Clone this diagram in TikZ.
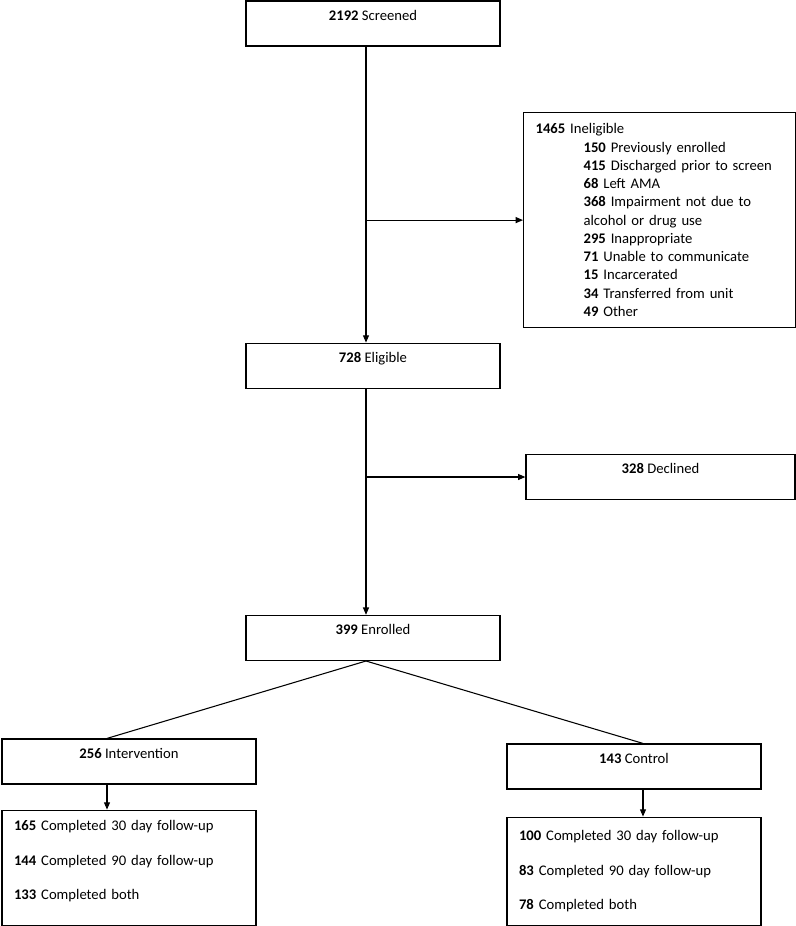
\documentclass[tikz,border=0pt]{standalone}
\usepackage{fontspec}
\setmainfont{Carlito}
\usepackage{tikz}
\usetikzlibrary{arrows.meta, positioning, calc}

\begin{document}
\begin{tikzpicture}[x=0.75pt, y=-0.75pt, >={Triangle[length=5.5pt, width=4.5pt]}, font=\fontsize{11}{13.7}\selectfont]
    \tikzstyle{stage} = [rectangle, draw=black, line width=0.9pt, minimum width=190.5pt, minimum height=33.75pt, inner sep=4pt, text height=10.25pt, text depth=15.5pt, text centered]
    \tikzstyle{listbox} = [rectangle, draw=black, line width=0.9pt, align=left, inner xsep=9pt, inner ysep=0pt]
    \tikzstyle{fubox} = [listbox, text width=172.5pt, font=\fontsize{11}{25.9}\selectfont]
    \tikzstyle{flow} = [draw, line width=0.8pt]

    \useasboundingbox (0,0) rectangle (796,926);
    \coordinate (spine) at (366,0);

    \node [stage] (screen) at (373,23.5) {\textbf{2192} Screened};
    \node [stage, below=222pt of screen] (elig) {\textbf{728} Eligible};
    \node [stage, below=169.5pt of elig] (enrol) {\textbf{399} Enrolled};
    \node [listbox, anchor=north west, text width=186pt, minimum height=161.25pt] (inelig) at (523,112) {%
        \textbf{1465} Ineligible\\
        \hspace*{36pt}\textbf{150} Previously enrolled\\
        \hspace*{36pt}\textbf{415} Discharged prior to screen\\
        \hspace*{36pt}\textbf{68} Left AMA\\
        \hspace*{36pt}\textbf{368} Impairment not due to\\
        \hspace*{36pt}alcohol or drug use\\
        \hspace*{36pt}\textbf{295} Inappropriate\\
        \hspace*{36pt}\textbf{71} Unable to communicate\\
        \hspace*{36pt}\textbf{15} Incarcerated\\
        \hspace*{36pt}\textbf{34} Transferred from unit\\
        \hspace*{36pt}\textbf{49} Other};
    \node [stage, minimum width=201.75pt] (decl) at (660.5,477) {\textbf{328} Declined};
    \node [stage] (inter) at (129,761.5) {\textbf{256} Intervention};
    \node [stage] (ctrl) at (634,766.5) {\textbf{143} Control};
    \node [fubox, minimum height=86.25pt, text depth=63pt, below=18.75pt of inter] (interfu) {%
        \textbf{165} Completed 30 day follow-up\\
        \textbf{144} Completed 90 day follow-up\\
        \textbf{133} Completed both};
    \node [fubox, minimum height=81pt, below=20.25pt of ctrl] (ctrlfu) {%
        \textbf{100} Completed 30 day follow-up\\
        \textbf{83} Completed 90 day follow-up\\
        \textbf{78} Completed both};

    \coordinate (apex) at (spine |- enrol.south);
    \coordinate (intop) at (107,0);
    \coordinate (ctop) at (643,0);

    \path [flow, ->] (spine |- screen.south) -- (spine |- elig.north);
    \path [flow, ->] (spine |- inelig.west) -- (inelig.west);
    \path [flow, ->] (spine |- elig.south) -- (spine |- enrol.north);
    \path [flow, ->] (spine |- decl.west) -- (decl.west);
    \path [flow] (apex) -- (intop |- inter.north);
    \path [flow] (apex) -- (ctop |- ctrl.north);
    \path [flow, ->] (intop |- inter.south) -- (intop |- interfu.north);
    \path [flow, ->] (ctop |- ctrl.south) -- (ctop |- ctrlfu.north);
\end{tikzpicture}
\end{document}
